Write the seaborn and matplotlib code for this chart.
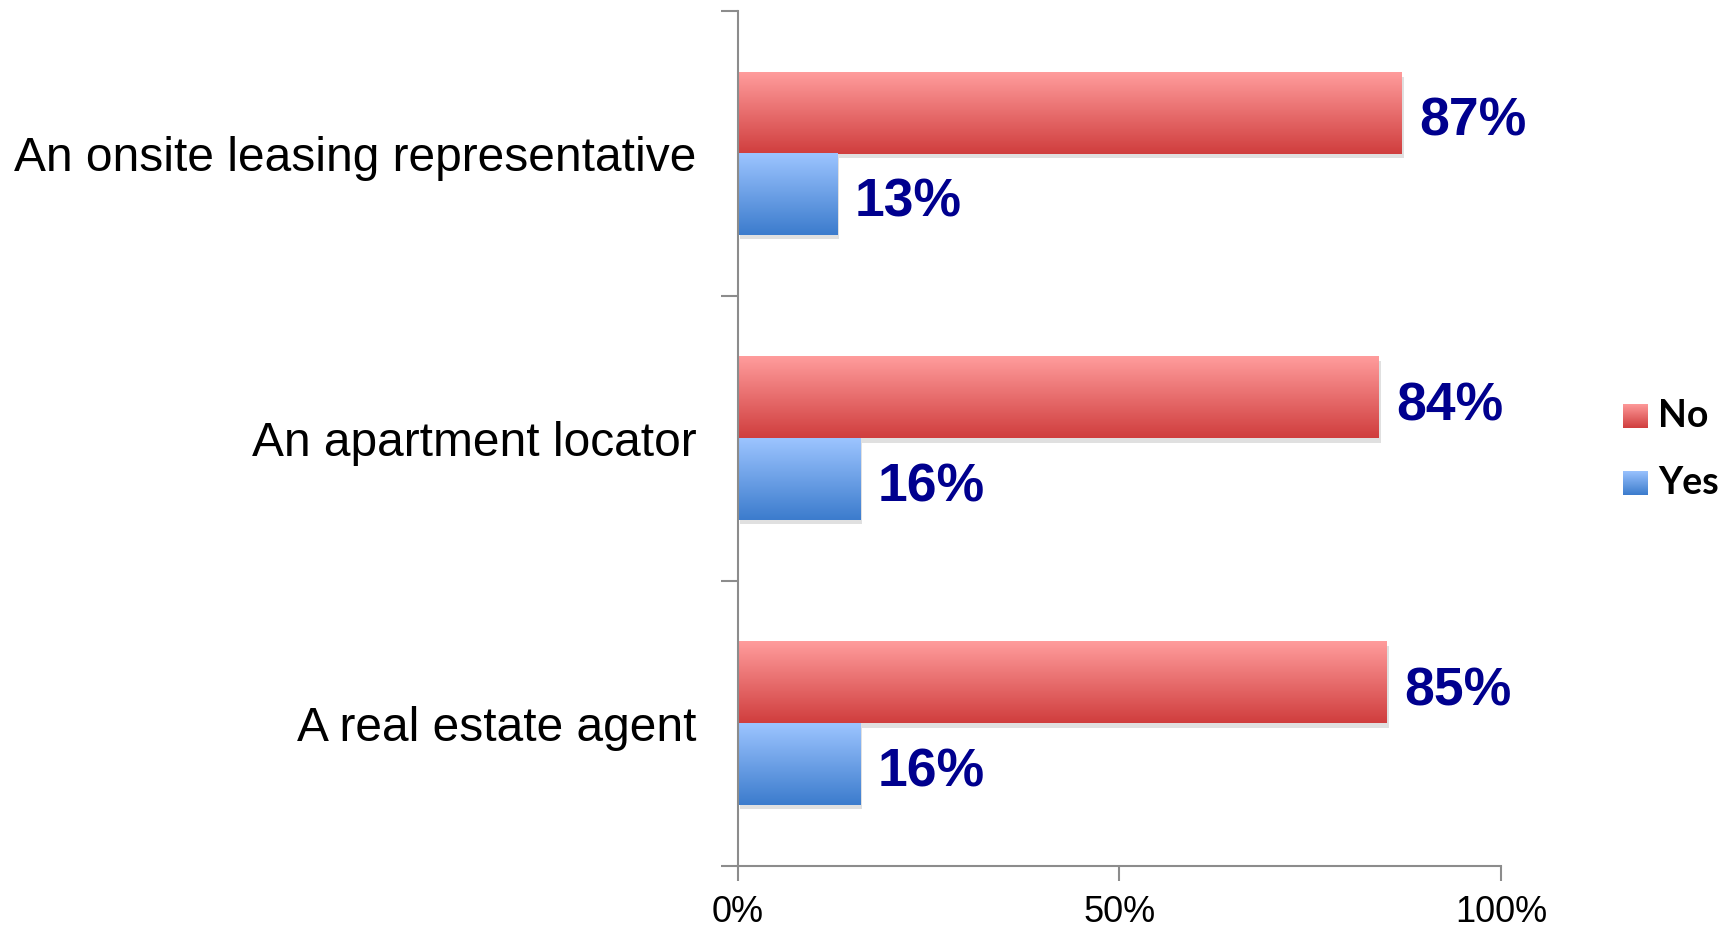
import matplotlib
matplotlib.use('agg')
import matplotlib.pyplot as plt
import matplotlib.patheffects as pe
from matplotlib.colors import LinearSegmentedColormap
import numpy as np
import pandas as pd
import seaborn as sns

categories = ['An onsite leasing representative', 'An apartment locator', 'A real estate agent']
no_values = [87, 84, 85]
yes_values = [13, 16, 16]
series = ['No', 'Yes']

# gradient colours, top -> bottom
grad = {
    'No': ('#FF9C9C', '#D03E3E'),
    'Yes': ('#9CC4FF', '#3C7CCD'),
}

df = pd.DataFrame({
    'category': categories * 2,
    'answer': ['No'] * 3 + ['Yes'] * 3,
    'value': no_values + yes_values,
})

sns.set_style('white')
plt.rcParams['font.family'] = ['Liberation Sans', 'DejaVu Sans']
plt.rcParams['text.color'] = 'black'
plt.rcParams['xtick.labelcolor'] = 'black'
plt.rcParams['ytick.labelcolor'] = 'black'

fig = plt.figure(figsize=(17.29, 9.27), dpi=100)
ax = fig.add_axes([0.4268, 0.066, 0.4413, 0.922])

sns.barplot(data=df, y='category', x='value', hue='answer', hue_order=series,
            order=categories, orient='h', width=0.57, gap=0, ax=ax,
            palette=[grad['No'][1], grad['Yes'][1]], legend=False,
            saturation=1, edgecolor='none')

# gradient fills + shadows
for patch, name in zip(ax.patches, ['No'] * 3 + ['Yes'] * 3):
    x0, y0 = patch.get_x(), patch.get_y()
    w, h = patch.get_width(), patch.get_height()
    cmap = LinearSegmentedColormap.from_list(name, list(grad[name]))
    patch.set_path_effects([pe.SimplePatchShadow(offset=(1.5, -3), shadow_rgbFace='#999999', alpha=0.3),
                            pe.Normal()])
    img = np.linspace(0, 1, 100).reshape(-1, 1)
    ax.imshow(img, cmap=cmap, extent=[x0, x0 + w, y0 + h, y0], aspect='auto',
              origin='upper', zorder=patch.get_zorder() + 0.1)
    ax.text(x0 + w + 2.3, y0 + h / 2 + 0.01, f'{int(round(w))}%', va='center_baseline', ha='left',
            fontsize=38.5, fontweight='bold', color='#00008E')

ax.set_xlim(0, 100)
ax.set_ylim(2.5, -0.5)

# axes styling
for s in ['top', 'right']:
    ax.spines[s].set_visible(False)
for s in ['left', 'bottom']:
    ax.spines[s].set_color('#8C8C8C')
    ax.spines[s].set_linewidth(1.5)

ax.set_xticks([0, 50, 100])
ax.set_xticklabels(['0%', '50%', '100%'], fontsize=26)
ax.tick_params(axis='x', direction='out', length=11, width=1.5, color='#8C8C8C', pad=10,
               bottom=True)

ax.set_yticks([-0.5, 0.5, 1.5, 2.5])
ax.set_yticklabels([])
ax.tick_params(axis='y', which='major', direction='out', length=12, width=1.5,
               color='#8C8C8C', left=True)
ax.set_yticks([0, 1, 2], minor=True)
ax.set_yticklabels(categories, minor=True, fontsize=34.5)
ax.tick_params(axis='y', which='minor', length=0, pad=30)

ax.set_xlabel('')
ax.set_ylabel('')
ax.grid(False)

# legend drawn manually with gradient swatches
leg_items = [('No', 0.5515), ('Yes', 0.4785)]
for name, yc in leg_items:
    sw = fig.add_axes([0.9387, yc - 0.013, 0.0142, 0.026])
    cmap = LinearSegmentedColormap.from_list(name + '_leg', list(grad[name]))
    sw.imshow(np.linspace(0, 1, 50).reshape(-1, 1), cmap=cmap, aspect='auto')
    sw.set_axis_off()
    fig.text(0.959, yc, name, fontsize=27, fontweight='bold', va='center', ha='left',
             family=['Lato', 'DejaVu Sans'])

fig.savefig('out.png', dpi=100)
